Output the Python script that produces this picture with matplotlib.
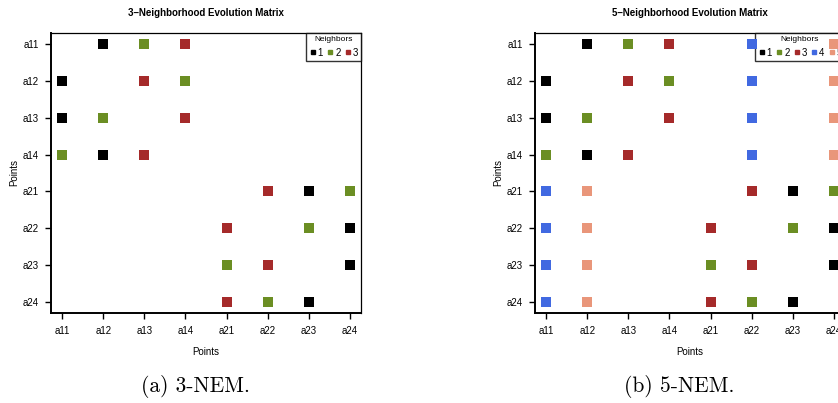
import matplotlib.pyplot as plt
from matplotlib.lines import Line2D

points = ['a11', 'a12', 'a13', 'a14', 'a21', 'a22', 'a23', 'a24']

# neighbour order per row: (column point, neighbour rank)
nem3 = {
    'a11': [('a12', 1), ('a13', 2), ('a14', 3)],
    'a12': [('a11', 1), ('a13', 3), ('a14', 2)],
    'a13': [('a11', 1), ('a12', 2), ('a14', 3)],
    'a14': [('a11', 2), ('a12', 1), ('a13', 3)],
    'a21': [('a22', 3), ('a23', 1), ('a24', 2)],
    'a22': [('a21', 3), ('a23', 2), ('a24', 1)],
    'a23': [('a21', 2), ('a22', 3), ('a24', 1)],
    'a24': [('a21', 3), ('a22', 2), ('a23', 1)],
}
nem5 = {
    'a11': [('a12', 1), ('a13', 2), ('a14', 3), ('a22', 4), ('a24', 5)],
    'a12': [('a11', 1), ('a13', 3), ('a14', 2), ('a22', 4), ('a24', 5)],
    'a13': [('a11', 1), ('a12', 2), ('a14', 3), ('a22', 4), ('a24', 5)],
    'a14': [('a11', 2), ('a12', 1), ('a13', 3), ('a22', 4), ('a24', 5)],
    'a21': [('a11', 4), ('a12', 5), ('a22', 3), ('a23', 1), ('a24', 2)],
    'a22': [('a11', 4), ('a12', 5), ('a21', 3), ('a23', 2), ('a24', 1)],
    'a23': [('a11', 4), ('a12', 5), ('a21', 2), ('a22', 3), ('a24', 1)],
    'a24': [('a11', 4), ('a12', 5), ('a21', 3), ('a22', 2), ('a23', 1)],
}
colors = {1: 'black', 2: '#6B8E23', 3: '#A52A2A', 4: '#4169E1', 5: '#E9967A'}

plt.rcParams['font.family'] = ['Liberation Sans', 'DejaVu Sans']

W, H = 838, 403
fig = plt.figure(figsize=(W / 100, H / 100), dpi=100)


def panel(left_px, data, k, title, caption):
    ax = fig.add_axes([left_px / W, 1 - 313 / H, 310 / W, 280 / H])
    for row, lst in data.items():
        for col, rank in lst:
            ax.scatter(points.index(col) + 1, points.index(row) + 1, marker='s',
                       s=44, color=colors[rank], linewidths=0, zorder=6)
    ax.set_xlim(0.73, 8.27)
    ax.set_ylim(8.3, 0.7)
    ax.set_xticks(range(1, 9))
    ax.set_xticklabels(points)
    ax.set_yticks(range(1, 9))
    ax.set_yticklabels(points)
    ax.tick_params(labelsize=7, length=4, width=1, pad=5)
    for sp in ax.spines.values():
        sp.set_linewidth(0.9)
    ax.spines['left'].set_linewidth(1.4)
    ax.spines['bottom'].set_linewidth(1.4)
    ax.set_xlabel('Points', fontsize=7, labelpad=8)
    ax.set_ylabel('Points', fontsize=7, labelpad=2)
    ax.set_title(title, fontsize=7, fontweight='bold', pad=12)
    handles = [Line2D([], [], marker='s', ls='', color=colors[i], markersize=3,
                      label=str(i)) for i in range(1, k + 1)]
    lg = ax.legend(handles=handles, title='Neighbors', ncol=k, loc='upper right',
                   fontsize=7, title_fontsize=6, frameon=True, fancybox=False,
                   borderpad=0.3, handletextpad=0.1, columnspacing=0.35,
                   handlelength=0.8, borderaxespad=0)
    lg.get_frame().set_edgecolor('black')
    lg.get_frame().set_linewidth(1.0)
    fig.text((left_px + 144) / W, 1 - 387 / H, caption, ha='center', va='center',
             fontsize=15.5, family='cmr10')
    return ax


panel(51, nem3, 3, '3\u2013Neighborhood Evolution Matrix', '(a) 3-NEM.')
panel(535, nem5, 5, '5\u2013Neighborhood Evolution Matrix', '(b) 5-NEM.')

fig.savefig('out.png', dpi=100)
